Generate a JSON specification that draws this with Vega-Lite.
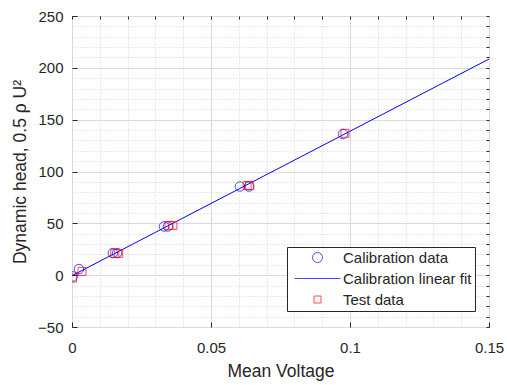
{
  "$schema": "https://vega.github.io/schema/vega-lite/v6.json",
  "autosize": "none",
  "width": 417,
  "height": 311,
  "padding": {"left": 72, "top": 16, "right": 18, "bottom": 58},
  "background": "white",
  "config": {
    "font": "Liberation Sans",
    "view": {"stroke": "#262626", "strokeWidth": 1},
    "axis": {"labelFont": "Liberation Sans", "titleFont": "Liberation Sans", "labelColor": "#262626", "titleColor": "#262626", "titleFontWeight": "normal", "domainColor": "#262626", "tickColor": "#262626"}
  },
  "datasets": {
    "calib": [
      {"v": 0.0003, "h": -1.2, "series": "Calibration data"},
      {"v": 0.0025, "h": 5.9, "series": "Calibration data"},
      {"v": 0.0147, "h": 21.3, "series": "Calibration data"},
      {"v": 0.0162, "h": 21.3, "series": "Calibration data"},
      {"v": 0.0331, "h": 47, "series": "Calibration data"},
      {"v": 0.0345, "h": 47, "series": "Calibration data"},
      {"v": 0.0604, "h": 85.5, "series": "Calibration data"},
      {"v": 0.0637, "h": 85.5, "series": "Calibration data"},
      {"v": 0.0975, "h": 136.2, "series": "Calibration data"}
    ],
    "test": [
      {"v": 0.0002, "h": -2.8, "series": "Test data"},
      {"v": 0.0036, "h": 3.6, "series": "Test data"},
      {"v": 0.0154, "h": 21, "series": "Test data"},
      {"v": 0.0168, "h": 21, "series": "Test data"},
      {"v": 0.0349, "h": 48, "series": "Test data"},
      {"v": 0.0363, "h": 48, "series": "Test data"},
      {"v": 0.063, "h": 86.4, "series": "Test data"},
      {"v": 0.0639, "h": 86.4, "series": "Test data"},
      {"v": 0.0982, "h": 136.9, "series": "Test data"}
    ],
    "fit": [
      {"v": 0, "h": -0.5, "series": "Calibration linear fit"},
      {"v": 0.15, "h": 208.5, "series": "Calibration linear fit"}
    ]
  },
  "resolve": {"axis": {"x": "independent", "y": "independent"}},
  "layer": [
    {
      "data": {"name": "calib"},
      "mark": {"type": "point", "filled": false, "size": 90, "strokeWidth": 1, "clip": true},
      "encoding": {
        "x": {"field": "v", "type": "quantitative", "scale": {"domain": [0, 0.15], "nice": false, "zero": false},
          "axis": {"orient": "bottom", "title": "Mean Voltage", "values": [0, 0.05, 0.1, 0.1499999], "labelExpr": "format(datum.value, '.2~f')", "labelFontSize": 15, "titleFontSize": 17.5, "grid": true, "gridColor": "#dcdcdc", "gridWidth": 1, "tickSize": -5, "labelPadding": 18, "titlePadding": 7, "domain": false, "labelFlush": false, "labelOverlap": false}},
        "y": {"field": "h", "type": "quantitative", "scale": {"domain": [-50, 250], "nice": false, "zero": false},
          "axis": {"orient": "left", "title": "Dynamic head, 0.5 ρ U²", "values": [-50, 0, 50, 100, 150, 200, 250], "labelFontSize": 15, "titleFontSize": 17.5, "grid": true, "gridColor": "#dcdcdc", "gridWidth": 1, "tickSize": -5, "labelPadding": 14, "titlePadding": 8, "domain": false, "labelOverlap": false}},
        "color": {"field": "series", "type": "nominal", "scale": {"domain": ["Calibration data", "Calibration linear fit", "Test data"], "range": ["#0000ff", "#0000ff", "#ff0000"]},
          "legend": {"title": null, "orient": "none", "legendX": 215, "legendY": 231, "strokeColor": "#262626", "fillColor": "white", "padding": 3, "labelFontSize": 15, "labelColor": "#262626", "labelFont": "Liberation Sans", "symbolSize": 100, "symbolStrokeWidth": 1, "rowPadding": 5, "symbolOffset": 20, "labelOffset": 18,
            "encode": {"symbols": {"fill": {"value": "transparent"}, "strokeWidth": {"value": 1}}}}},
        "shape": {"field": "series", "type": "nominal", "scale": {"domain": ["Calibration data", "Calibration linear fit", "Test data"], "range": ["circle", "M-4.6,0H4.6", "M-0.7,-0.7H0.7V0.7H-0.7Z"]},
          "legend": {"title": null, "orient": "none", "legendX": 215, "legendY": 231, "strokeColor": "#262626", "fillColor": "white", "padding": 3, "labelFontSize": 15, "labelColor": "#262626", "labelFont": "Liberation Sans", "symbolSize": 100, "symbolStrokeWidth": 1, "rowPadding": 5, "symbolOffset": 20, "labelOffset": 18,
            "encode": {"symbols": {"fill": {"value": "transparent"}, "strokeWidth": {"value": 1}}}}}
      }
    },
    {
      "data": {"name": "fit"},
      "mark": {"type": "line", "strokeWidth": 1, "clip": true},
      "encoding": {
        "x": {"field": "v", "type": "quantitative",
          "axis": {"orient": "top", "title": null, "labels": false, "values": [0, 0.01, 0.02, 0.03, 0.04, 0.05, 0.06, 0.07, 0.08, 0.09, 0.1, 0.11, 0.12, 0.13, 0.14], "grid": true, "gridColor": "#d4d4d4", "gridDash": [1, 2], "gridWidth": 1, "tickSize": -3, "domain": false}},
        "y": {"field": "h", "type": "quantitative",
          "axis": {"orient": "right", "title": null, "labels": false, "values": [-50, -40, -30, -20, -10, 0, 10, 20, 30, 40, 50, 60, 70, 80, 90, 100, 110, 120, 130, 140, 150, 160, 170, 180, 190, 200, 210, 220, 230, 240, 250], "grid": true, "gridColor": "#d4d4d4", "gridDash": [1, 2], "gridWidth": 1, "tickSize": -3, "domain": false}},
        "color": {"field": "series", "type": "nominal"}
      }
    },
    {
      "data": {"name": "test"},
      "mark": {"type": "point", "filled": false, "size": 130, "strokeWidth": 1, "clip": true},
      "encoding": {
        "x": {"field": "v", "type": "quantitative", "axis": null},
        "y": {"field": "h", "type": "quantitative", "axis": null},
        "color": {"field": "series", "type": "nominal"},
        "shape": {"field": "series", "type": "nominal"}
      }
    }
  ]
}
